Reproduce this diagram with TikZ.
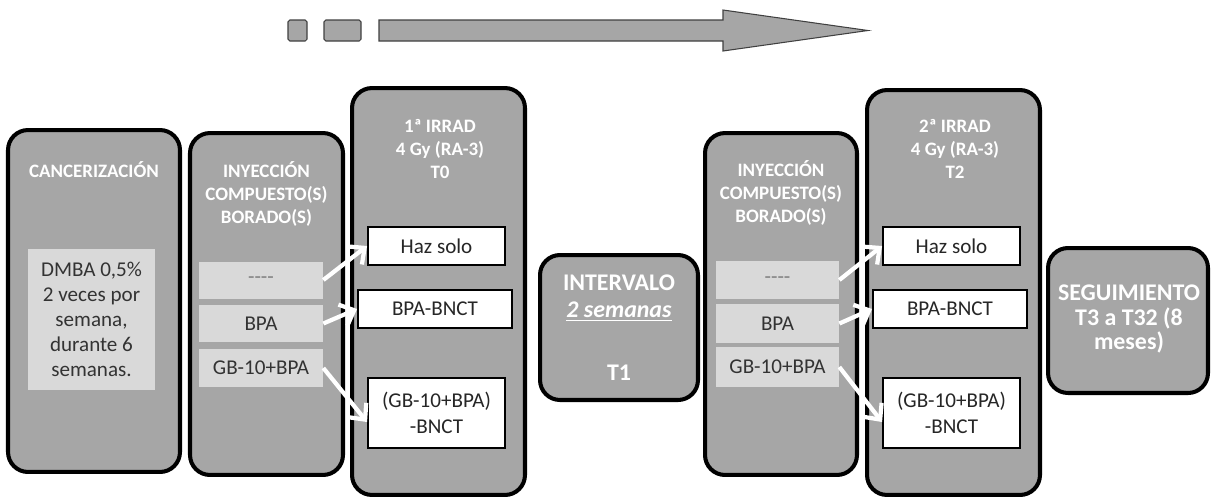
\documentclass[tikz,border=0pt]{standalone}
\usepackage{fontspec}
\setmainfont{Carlito}
\usetikzlibrary{arrows.meta}
\definecolor{boxgray}{HTML}{A6A6A6}
\definecolor{subgray}{HTML}{D9D9D9}
\definecolor{edgegray}{HTML}{404040}
\tikzset{
  phase/.style={draw=black, line width=2.3pt, fill=boxgray, rounded corners=0.4cm},
  phasetitle/.style={text=white, font=\bfseries\fontsize{10.8}{13.3}\selectfont, align=center},
  bigtitle/.style={text=white, font=\bfseries\fontsize{13.6}{14.2}\selectfont, align=center},
  drug/.style={fill=subgray, text=black!80, font=\fontsize{12}{14.2}\selectfont, align=center, inner sep=0pt},
  beam/.style={draw=black, line width=1.1pt, fill=white, text=black!85, font=\fontsize{12}{15}\selectfont, align=center, inner sep=0pt},
  feed/.style={draw=white, line width=2.4pt, -{Straight Barb[length=7pt,width=13pt]}},
  timeline/.style={fill=boxgray, draw=edgegray, line width=0.6pt}
}
\begin{document}
\begin{tikzpicture}[x=0.02cm,y=-0.02cm]
\useasboundingbox (0,0) rectangle (1213,498);
% flecha de tiempo
\draw[timeline, rounded corners=1pt] (288,20) rectangle (307,41);
\draw[timeline, rounded corners=1pt] (324,20) rectangle (361,41);
\draw[timeline] (379,20) -- (723,20) -- (723,10) -- (868,30.5) -- (723,51) -- (723,41) -- (379,41) -- cycle;
% cajas de fases
\node[phase, minimum width=3.44cm, minimum height=6.84cm] (canc) at (94,301) {};
\node[phase, minimum width=3.06cm, minimum height=6.84cm] (iny1) at (266.5,304) {};
\node[phase, minimum width=3.46cm, minimum height=8.14cm] (irr1) at (438.5,291.5) {};
\node[phase, minimum width=3.16cm, minimum height=2.9cm] (interv) at (619,327.5) {};
\node[phase, minimum width=3.04cm, minimum height=6.84cm] (iny2) at (781,304) {};
\node[phase, minimum width=3.46cm, minimum height=8.1cm] (irr2) at (953.5,292.5) {};
\node[phase, minimum width=3.2cm, minimum height=2.9cm] (seg) at (1128,320.5) {};
% titulos
\node[phasetitle] (canct) at (94,170) {CANCERIZACIÓN};
\node[phasetitle] (iny1t) at (266.5,194) {INYECCIÓN\\COMPUESTO(S)\\BORADO(S)};
\node[phasetitle] (irr1t) at (440,149) {1ª IRRAD\\4 Gy (RA-3)\\T0};
\node[bigtitle] (intervt) at (619,298) {INTERVALO\\[1pt]\underline{\textit{2 semanas}}};
\node[bigtitle] (t1) at (619,373) {T1};
\node[phasetitle] (iny2t) at (781,193) {INYECCIÓN\\COMPUESTO(S)\\BORADO(S)};
\node[phasetitle] (irr2t) at (955,149) {2ª IRRAD\\4 Gy (RA-3)\\T2};
\node[bigtitle] (segt) at (1129,319) {SEGUIMIENTO\\T3 a T32 (8\\meses)};
% contenido
\node[drug, minimum width=2.54cm, minimum height=2.82cm] (dmba) at (91.5,319.5) {DMBA 0,5\%\\2 veces por\\semana,\\durante 6\\semanas.};
\node[drug, minimum width=2.48cm, minimum height=0.74cm, text=black!50] (nada1) at (261,280) {{-}{-}{-}{-}};
\node[drug, minimum width=2.48cm, minimum height=0.74cm] (bpa1) at (261,323.5) {BPA};
\node[drug, minimum width=2.48cm, minimum height=0.76cm] (gb1) at (261,368) {GB-10+BPA};
\node[drug, minimum width=2.46cm, minimum height=0.76cm, text=black!50] (nada2) at (777.5,280) {{-}{-}{-}{-}};
\node[drug, minimum width=2.46cm, minimum height=0.78cm] (bpa2) at (777.5,323.5) {BPA};
\node[drug, minimum width=2.46cm, minimum height=0.8cm] (gb2) at (777.5,367) {GB-10+BPA};
\node[beam, minimum width=2.74cm, minimum height=0.76cm] (haz1) at (436.5,246) {Haz solo};
\node[beam, minimum width=3.08cm, minimum height=0.76cm] (bnct1) at (435,309) {BPA-BNCT};
\node[beam, minimum width=2.74cm, minimum height=1.4cm] (gbn1) at (436.5,413) {(GB-10+BPA)\\-BNCT};
\node[beam, minimum width=2.74cm, minimum height=0.76cm] (haz2) at (951.5,246) {Haz solo};
\node[beam, minimum width=3.08cm, minimum height=0.76cm] (bnct2) at (950,309) {BPA-BNCT};
\node[beam, minimum width=2.74cm, minimum height=1.4cm] (gbn2) at (951.5,413) {(GB-10+BPA)\\-BNCT};
% flechas blancas
\draw[feed] (nada1.east) -- (haz1.west);
\draw[feed] (bpa1.east) -- (bnct1.west);
\draw[feed] (gb1.east) -- ([yshift=-0.18cm]gbn1.west);
\draw[feed] (nada2.east) -- (haz2.west);
\draw[feed] (bpa2.east) -- (bnct2.west);
\draw[feed] (gb2.east) -- ([yshift=-0.18cm]gbn2.west);
\end{tikzpicture}
\end{document}
